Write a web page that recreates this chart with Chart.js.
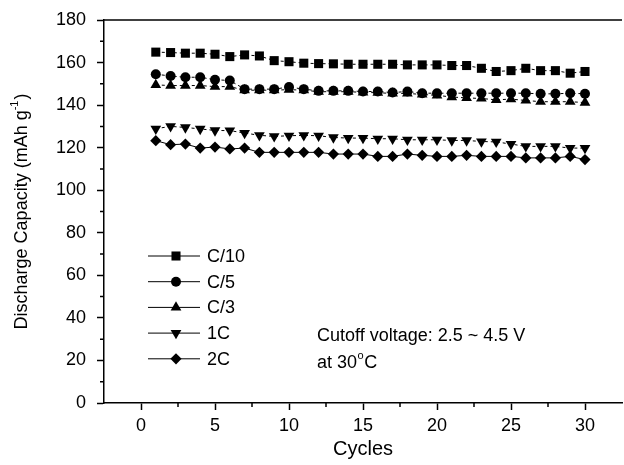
<!DOCTYPE html>
<html>
<head>
<meta charset="utf-8">
<script src="https://cdn.jsdelivr.net/npm/chart.js@4.4.1/dist/chart.umd.min.js"></script>
<style>
  body { margin: 0; background: #fff; }
  canvas { display: block; }
</style>
</head>
<body>
<canvas id="cap" width="624" height="465"></canvas>
<script>
const FONT = "'Liberation Sans', Arial, Helvetica, sans-serif";

// data
const cycles = [1, 2, 3, 4, 5, 6, 7, 8, 9, 10, 11, 12, 13, 14, 15, 16, 17, 18, 19, 20, 21, 22, 23, 24, 25, 26, 27, 28, 29, 30];
const c10 = [164.9, 164.7, 164.4, 164.4, 163.9, 162.8, 163.6, 163.1, 160.9, 160.4, 159.7, 159.5, 159.4, 159.2, 159.2, 159.2, 159.2, 158.9, 158.9, 158.9, 158.6, 158.6, 157.3, 155.8, 156.2, 157.3, 156.2, 156.2, 155.0, 155.8];
const c5 = [154.5, 153.7, 153.1, 153.1, 151.9, 151.6, 147.5, 147.5, 147.5, 148.5, 147.5, 146.7, 146.7, 146.7, 146.4, 146.4, 145.9, 146.4, 145.6, 145.6, 145.6, 145.6, 145.6, 145.6, 145.6, 145.6, 145.3, 145.3, 145.6, 145.3];
const c3 = [149.5, 149.2, 149.2, 149.2, 148.7, 148.7, 147.0, 147.0, 147.0, 147.3, 147.0, 146.3, 146.3, 146.3, 146.0, 145.8, 145.5, 145.5, 145.0, 144.6, 143.8, 143.4, 143.1, 142.5, 142.8, 142.2, 141.6, 141.6, 141.6, 141.2];
const oneC = [128.9, 130.0, 129.5, 128.8, 128.1, 128.0, 126.9, 125.8, 125.3, 125.6, 125.8, 125.6, 124.8, 124.5, 124.5, 124.2, 124.2, 123.7, 123.7, 123.7, 123.4, 123.4, 122.9, 122.7, 121.7, 120.6, 120.6, 120.6, 119.8, 119.8];
const twoC = [123.3, 121.4, 121.7, 119.8, 120.3, 119.4, 119.8, 117.8, 117.8, 117.8, 117.8, 117.8, 117.0, 117.0, 117.0, 115.9, 115.9, 117.0, 116.4, 115.9, 115.9, 116.4, 115.9, 115.9, 115.9, 115.2, 115.2, 115.2, 115.9, 114.4];

const seriesNames = ['C/10', 'C/5', 'C/3', '1C', '2C'];
const xTicks = [0, 5, 10, 15, 20, 25, 30];
const xMinor = [2.5, 7.5, 12.5, 17.5, 22.5, 27.5];
const yMinor = [10, 30, 50, 70, 90, 110, 130, 150, 170];

// marker look per series
const markers = [
    { pointStyle: 'rect', radius: 6.4, rotation: 0, dash: [3, 3] },
    { pointStyle: 'circle', radius: 5, rotation: 0, dash: [3, 3] },
    { pointStyle: 'triangle', radius: 6.2, rotation: 0, dash: [3, 3] },
    { pointStyle: 'triangle', radius: 6.2, rotation: 180, dash: [3, 3] },
    { pointStyle: 'rectRot', radius: 5.6, rotation: 0, dash: [] }
];

const allValues = [c10, c5, c3, oneC, twoC];

const datasets = allValues.map((vals, i) => ({
    label: seriesNames[i],
    data: cycles.map((c, k) => ({ x: c, y: vals[k] })),
    borderColor: '#000',
    borderWidth: 1,
    borderDash: markers[i].dash,
    backgroundColor: '#000',
    pointStyle: markers[i].pointStyle,
    pointRadius: markers[i].radius,
    pointRotation: markers[i].rotation,
    pointBackgroundColor: '#000',
    pointBorderColor: '#000',
    pointBorderWidth: 0,
    tension: 0
}));

function drawMarker(ctx, m, x, y) {
    ctx.fillStyle = '#000';
    ctx.strokeStyle = '#000';
    ctx.lineWidth = 0;
    Chart.helpers.drawPoint(ctx, { pointStyle: m.pointStyle, radius: m.radius, rotation: m.rotation, borderWidth: 0 }, x, y);
}

// axes extras, legend, titles and notes
const decor = {
    id: 'decor',
    afterDraw(chart) {
        const { ctx, chartArea: a, scales } = chart;
        const x = scales.x, y = scales.y;
        ctx.save();
        ctx.strokeStyle = '#000';
        ctx.lineWidth = 1.5;
        ctx.setLineDash([]);

        // top frame line
        ctx.beginPath();
        ctx.moveTo(a.left - 0.75, a.top);
        ctx.lineTo(a.right, a.top);
        ctx.stroke();

        // minor ticks
        ctx.beginPath();
        xMinor.forEach(v => {
            const px = x.getPixelForValue(v);
            ctx.moveTo(px, a.bottom);
            ctx.lineTo(px, a.bottom + 4);
        });
        yMinor.forEach(v => {
            const py = y.getPixelForValue(v);
            ctx.moveTo(a.left, py);
            ctx.lineTo(a.left - 4, py);
        });
        ctx.stroke();

        // legend
        ctx.font = '18px ' + FONT;
        ctx.textBaseline = 'middle';
        ctx.textAlign = 'left';
        ctx.lineWidth = 1;
        seriesNames.forEach((name, i) => {
            const ly = a.top + 236 + i * 25.7;
            ctx.strokeStyle = '#000';
            ctx.beginPath();
            ctx.moveTo(a.left + 44, ly);
            ctx.lineTo(a.left + 96, ly);
            ctx.stroke();
            drawMarker(ctx, markers[i], a.left + 72, ly);
            ctx.fillStyle = '#000';
            ctx.fillText(name, a.left + 103, ly + 1);
        });

        // note text
        ctx.fillStyle = '#000';
        ctx.font = '18px ' + FONT;
        ctx.fillText('Cutoff voltage: 2.5 ~ 4.5 V', 317, 336);
        let tx = 317;
        ctx.fillText('at 30', tx, 363);
        tx += ctx.measureText('at 30').width;
        ctx.font = '11px ' + FONT;
        ctx.fillText('o', tx + 0.5, 356);
        tx += ctx.measureText('o').width + 1;
        ctx.font = '18px ' + FONT;
        ctx.fillText('C', tx, 363);

        // y axis title with superscript
        ctx.save();
        ctx.translate(22, (a.top + a.bottom) / 2);
        ctx.rotate(-Math.PI / 2);
        const main = 'Discharge Capacity (mAh g';
        ctx.font = '18px ' + FONT;
        const w1 = ctx.measureText(main).width;
        const w3 = ctx.measureText(')').width;
        ctx.font = '11px ' + FONT;
        const w2 = ctx.measureText('-1').width;
        let sx = -(w1 + w2 + w3 + 1) / 2;
        ctx.textAlign = 'left';
        ctx.font = '18px ' + FONT;
        ctx.fillText(main, sx, 0);
        sx += w1;
        ctx.font = '11px ' + FONT;
        ctx.fillText('-1', sx, -7);
        sx += w2 + 1;
        ctx.font = '18px ' + FONT;
        ctx.fillText(')', sx, 0);
        ctx.restore();

        ctx.restore();
    }
};

new Chart(document.getElementById('cap'), {
    type: 'line',
    data: { datasets: datasets },
    options: {
        responsive: false,
        animation: false,
        layout: { autoPadding: false, padding: { top: 20, right: 2, left: 0, bottom: 0 } },
        plugins: {
            legend: { display: false },
            tooltip: { enabled: false }
        },
        scales: {
            x: {
                type: 'linear',
                min: -2.5,
                max: 32.5,
                afterBuildTicks: s => { s.ticks = xTicks.map(v => ({ value: v })); },
                afterFit: s => { s.height = 62; s.paddingLeft = 0; s.paddingRight = 0; },
                grid: { drawOnChartArea: false, tickLength: 7, tickWidth: 1.5, tickColor: '#000' },
                border: { color: '#000', width: 1.5 },
                ticks: { color: '#000', font: { size: 18, family: FONT }, padding: 5, maxRotation: 0, autoSkip: false },
                title: { display: true, text: 'Cycles', color: '#000', font: { size: 20, family: FONT }, padding: { top: 0, bottom: 4 } }
            },
            y: {
                min: 0,
                max: 180,
                afterFit: s => { s.width = 104; s.paddingTop = 0; s.paddingBottom = 0; },
                grid: { drawOnChartArea: false, tickLength: 7, tickWidth: 1.5, tickColor: '#000' },
                border: { color: '#000', width: 1.5 },
                ticks: { stepSize: 20, color: '#000', font: { size: 18, family: FONT }, padding: 11 }
            }
        }
    },
    plugins: [decor]
});
</script>
</body>
</html>
